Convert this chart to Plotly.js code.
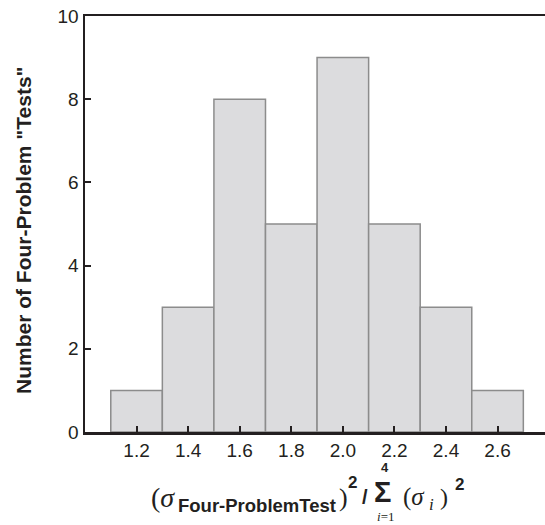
<!DOCTYPE html>
<html><head><meta charset="utf-8">
<script src="https://cdn.plot.ly/plotly-3.0.1.min.js"></script>
<style>body{margin:0;padding:0;background:#fff}</style>
</head><body>
<div id="chart" style="width:545px;height:525px"></div>
<script>
const binCenters = [1.2, 1.4, 1.6, 1.8, 2.0, 2.2, 2.4, 2.6];
const counts = [1, 3, 8, 5, 9, 5, 3, 1];
const binWidth = 0.2;
const xTickVals = [1.2, 1.4, 1.6, 1.8, 2.0, 2.2, 2.4, 2.6];
const xTickText = ["1.2", "1.4", "1.6", "1.8", "2.0", "2.2", "2.4", "2.6"];
const yTickVals = [0, 2, 4, 6, 8, 10];
const yTitle = '<b>Number of Four-Problem "Tests"</b>';

const M = {l: 85, r: 0, t: 16, b: 93};
const W = 545, H = 525;
const pw = W - M.l - M.r, ph = H - M.t - M.b;
const px = v => (v - M.l) / pw;
const py = v => (H - M.b - v) / ph;
const ink = '#231f20';
const serif = 'Liberation Serif, Times New Roman, serif';
const sans = 'Liberation Sans, Arial, sans-serif';

function ann(x, y, text, size, family, xanchor, angle) {
  return {xref: 'paper', yref: 'paper', x: px(x), y: py(y), xanchor: xanchor || 'left', yanchor: 'middle',
    showarrow: false, text: text, textangle: angle || 0, borderpad: 0,
    font: {size: size, family: family || sans, color: ink}};
}

const trace = {
  type: 'bar', x: binCenters, y: counts, width: binWidth,
  marker: {color: '#dcdcde', line: {color: '#8c8c8c', width: 1.5}},
  hoverinfo: 'skip'
};
const layout = {
  width: W, height: H, margin: M,
  paper_bgcolor: '#fff', plot_bgcolor: '#fff', showlegend: false,
  font: {family: sans, color: ink, size: 19},
  xaxis: {
    range: [1.0, 2.784], tickvals: xTickVals, ticktext: xTickText,
    ticks: 'inside', ticklen: 6, tickwidth: 2, tickcolor: ink,
    showline: true, linecolor: ink, linewidth: 2.5, mirror: true,
    showgrid: false, zeroline: false, tickfont: {size: 19, color: ink}
  },
  yaxis: {
    range: [0, 10], tickvals: yTickVals,
    ticks: 'inside', ticklen: 6, tickwidth: 2, tickcolor: ink,
    showline: true, linecolor: ink, linewidth: 2.5,
    showgrid: false, zeroline: false, tickfont: {size: 19, color: ink}
  },
  annotations: [
    ann(24, 230, yTitle, 21, sans, 'center', -90),
    ann(150, 497, '(<i>σ</i>', 28, serif),
    ann(177, 505, '<b>Four-ProblemTest</b>', 18.5, sans),
    ann(338, 497, ')', 26, serif),
    ann(347, 482, '<b>2</b>', 17, sans),
    ann(361, 497, '<b>/</b>', 20, sans),
    ann(373, 492, '<b>Σ</b>', 29, sans),
    ann(385, 468, '<b>4</b>', 13, sans, 'center'),
    ann(385, 516, '<i>i</i>=1', 13, serif, 'center'),
    ann(402, 497, '(<i>σ</i>', 25, serif),
    ann(428, 504, '<i>i</i>', 17, serif),
    ann(439, 497, ')', 24, serif),
    ann(454, 484, '<b>2</b>', 17, sans)
  ]
};
Plotly.newPlot('chart', [trace], layout, {displayModeBar: false, staticPlot: true});
</script>
</body></html>
